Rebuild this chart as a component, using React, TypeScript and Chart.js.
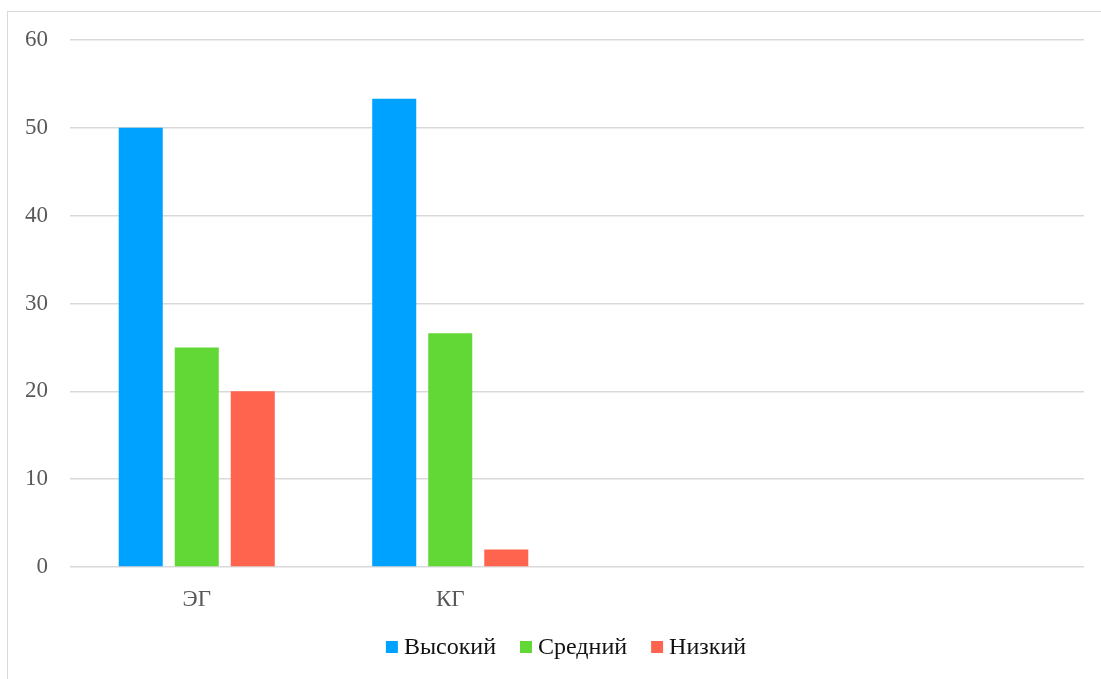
import React, { useEffect, useRef } from "react";
import { Chart, registerables } from "chart.js";

Chart.register(...registerables);

const categories = ["ЭГ", "КГ", "", ""];
const seriesNames = ["Высокий", "Средний", "Низкий"];
const highValues = [50, 53.3, null, null];
const midValues = [25, 26.6, null, null];
const lowValues = [20, 2, null, null];
const seriesColors = ["#00A2FF", "#61D836", "#FF644E"];
const yTicks = [0, 10, 20, 30, 40, 50, 60];

const FONT = "'Liberation Serif', 'Times New Roman', serif";

const bottomLegend = {
  id: "bottomLegend",
  afterDraw(chart: any) {
    const ctx = chart.ctx;
    const box = 12;
    const gap = 6;
    const spacing = 24;
    const centerX = 566;
    const centerY = 647;
    ctx.save();
    ctx.font = `24px ${FONT}`;
    ctx.textBaseline = "middle";
    ctx.textAlign = "left";
    const items = chart.data.datasets.map((ds: any) => ({
      label: ds.label,
      color: ds.backgroundColor,
      w: ctx.measureText(ds.label).width,
    }));
    const total =
      items.reduce((s: number, it: any) => s + box + gap + it.w, 0) + spacing * (items.length - 1);
    let x = centerX - total / 2;
    items.forEach((it: any) => {
      ctx.fillStyle = it.color;
      ctx.fillRect(x, centerY - box / 2, box, box);
      ctx.fillStyle = "#111111";
      ctx.fillText(it.label, x + box + gap, centerY + 1);
      x += box + gap + it.w + spacing;
    });
    ctx.restore();
  },
};

export default function App() {
  const ref = useRef<HTMLCanvasElement | null>(null);

  useEffect(() => {
    if (!ref.current) return;
    const chart = new Chart(ref.current, {
      type: "bar",
      data: {
        labels: categories,
        datasets: [highValues, midValues, lowValues].map((vals, i) => ({
          label: seriesNames[i],
          data: vals,
          backgroundColor: seriesColors[i],
          borderWidth: 0,
          categoryPercentage: 0.663,
          barPercentage: 0.786,
        })),
      },
      options: {
        responsive: false,
        animation: false,
        layout: { padding: { left: 0, right: 17, top: 40, bottom: 67 } },
        plugins: {
          tooltip: { enabled: false },
          legend: { display: false },
        },
        scales: {
          x: {
            grid: { display: false, drawTicks: false },
            border: { display: false },
            ticks: {
              color: "#595959",
              padding: 19,
              font: { family: FONT, size: 23 },
            },
            afterFit: (s: any) => {
              s.height = 45;
            },
          },
          y: {
            min: 0,
            max: 60,
            afterBuildTicks: (s: any) => {
              s.ticks = yTicks.map((v) => ({ value: v }));
            },
            grid: { color: "#d9d9d9", lineWidth: 1.5, drawTicks: false },
            border: { display: false },
            ticks: {
              color: "#595959",
              padding: 22,
              font: { family: FONT, size: 23 },
            },
            afterFit: (s: any) => {
              s.width = 70;
            },
          },
        },
      },
      plugins: [bottomLegend],
    });
    return () => chart.destroy();
  }, []);

  return (
    <div style={{ position: "fixed", left: 0, top: 0, width: 1101, height: 679, background: "#fff", overflow: "hidden" }}>
      <div
        style={{
          position: "absolute",
          left: 7,
          top: 11,
          width: 1200,
          height: 800,
          border: "1px solid #d9d9d9",
          boxSizing: "border-box",
        }}
      />
      <canvas ref={ref} width={1101} height={679} style={{ position: "absolute", left: 0, top: 0 }} />
    </div>
  );
}
